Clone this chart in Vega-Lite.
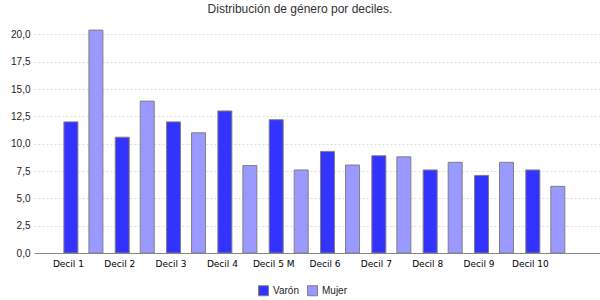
{
  "$schema": "https://vega.github.io/schema/vega-lite/v6.json",
  "width": 566,
  "height": 224,
  "autosize": {"type": "none"},
  "padding": {"left": 34, "top": 29, "right": 0, "bottom": 47},
  "background": "white",
  "title": {
    "text": "Distribución de género por deciles.",
    "font": "Liberation Sans",
    "fontSize": 12,
    "fontWeight": "normal",
    "color": "#333333",
    "anchor": "middle",
    "frame": "group",
    "baseline": "bottom",
    "offset": 12,
    "dx": -17,
    "dy": 11
  },
  "config": {
    "view": {"stroke": null},
    "font": "Liberation Sans"
  },
  "data": {
    "values": [
      {"decil": "Decil 1", "genero": "Varón", "valor": 12.0},
      {"decil": "Decil 1", "genero": "Mujer", "valor": 20.4},
      {"decil": "Decil 2", "genero": "Varón", "valor": 10.6},
      {"decil": "Decil 2", "genero": "Mujer", "valor": 13.9},
      {"decil": "Decil 3", "genero": "Varón", "valor": 12.0},
      {"decil": "Decil 3", "genero": "Mujer", "valor": 11.0},
      {"decil": "Decil 4", "genero": "Varón", "valor": 13.0},
      {"decil": "Decil 4", "genero": "Mujer", "valor": 8.0},
      {"decil": "Decil 5 M", "genero": "Varón", "valor": 12.2},
      {"decil": "Decil 5 M", "genero": "Mujer", "valor": 7.6},
      {"decil": "Decil 6", "genero": "Varón", "valor": 9.3},
      {"decil": "Decil 6", "genero": "Mujer", "valor": 8.05},
      {"decil": "Decil 7", "genero": "Varón", "valor": 8.9},
      {"decil": "Decil 7", "genero": "Mujer", "valor": 8.8},
      {"decil": "Decil 8", "genero": "Varón", "valor": 7.6},
      {"decil": "Decil 8", "genero": "Mujer", "valor": 8.3},
      {"decil": "Decil 9", "genero": "Varón", "valor": 7.1},
      {"decil": "Decil 9", "genero": "Mujer", "valor": 8.3},
      {"decil": "Decil 10", "genero": "Varón", "valor": 7.6},
      {"decil": "Decil 10", "genero": "Mujer", "valor": 6.1}
    ]
  },
  "mark": {"type": "bar", "stroke": "#808080", "strokeWidth": 1},
  "encoding": {
    "x": {
      "field": "decil",
      "type": "nominal",
      "sort": null,
      "scale": {"paddingInner": 0, "paddingOuter": 0.514, "align": 0.45},
      "axis": {
        "title": null,
        "labelAngle": 0,
        "ticks": false,
        "domainColor": "#888888",
        "labelFont": "DejaVu Sans",
        "labelFontSize": 9,
        "labelColor": "#000000",
        "labelPadding": 6,
        "labelOffset": -15,
        "grid": false
      }
    },
    "xOffset": {
      "field": "genero",
      "type": "nominal",
      "sort": ["Varón", "Mujer"],
      "scale": {"paddingInner": 0.44, "paddingOuter": 0.246}
    },
    "y": {
      "field": "valor",
      "type": "quantitative",
      "scale": {"domain": [0, 20.5], "nice": false},
      "axis": {
        "title": null,
        "values": [0, 2.5, 5, 7.5, 10, 12.5, 15, 17.5, 20],
        "labelExpr": "replace(format(datum.value, '.1f'), '.', ',')",
        "domain": false,
        "ticks": false,
        "labelPadding": 4,
        "labelFont": "Liberation Sans",
        "labelFontSize": 10,
        "labelColor": "#222222",
        "gridColor": "#dddddd",
        "gridDash": [2, 2]
      }
    },
    "color": {
      "field": "genero",
      "type": "nominal",
      "sort": ["Varón", "Mujer"],
      "scale": {"domain": ["Varón", "Mujer"], "range": ["#3333ff", "#9999ff"]},
      "legend": {
        "title": null,
        "orient": "none",
        "direction": "horizontal",
        "legendX": 224,
        "legendY": 256,
        "symbolType": "square",
        "symbolSize": 100,
        "symbolStrokeColor": "#808080",
        "symbolStrokeWidth": 1,
        "symbolOpacity": 1,
        "labelFont": "Liberation Sans",
        "labelFontSize": 10,
        "labelColor": "#222222",
        "labelOffset": 4,
        "columnPadding": 6
      }
    }
  }
}
